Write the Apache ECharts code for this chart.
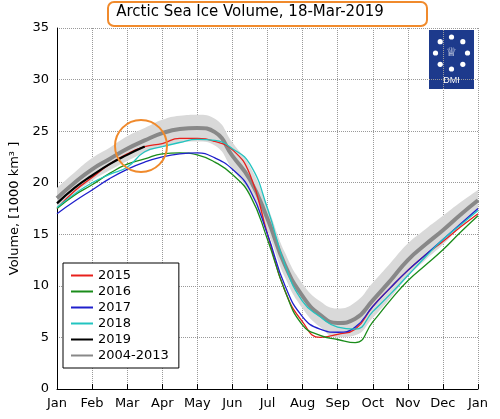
<!DOCTYPE html>
<html><head><meta charset="utf-8">
<script src="https://cdn.jsdelivr.net/npm/echarts@6/dist/echarts.min.js"></script>
<style>html,body{margin:0;background:#fff}#c{width:500px;height:419px}</style>
</head><body><div id="c"></div>
<script>
// half-month steps, index 0 = 1 Jan, index 24 = next 1 Jan
const months = ['Jan','Feb','Mar','Apr','May','Jun','Jul','Aug','Sep','Oct','Nov','Dec','Jan'];
const steps = ['0','0.5','1','1.5','2','2.5','3','3.5','4','4.5','5','5.5','6','6.5','7','7.5','8','8.5','9','9.5','10','10.5','11','11.5','12'];
const mean = [18.5,20,21.3,22.3,23.3,24.1,24.8,25.2,25.3,24.9,22.6,20.3,16.5,12.0,9.0,7.2,6.4,6.8,8.6,10.5,12.5,14.0,15.4,16.9,18.3];
const bandLow = [17.5,19,20.2,21.2,22.1,22.9,23.5,23.9,24.0,23.6,21.3,19.0,15.3,10.8,7.8,6.0,5.0,5.2,6.9,8.8,10.9,12.5,14.0,15.7,17.3];
const bandHigh = [19.5,21,22.4,23.4,24.5,25.3,26.1,26.5,26.6,26.2,23.9,21.6,17.7,13.2,10.2,8.5,7.8,8.4,10.3,12.2,14.1,15.5,16.8,18.1,19.3];
const y2015 = [17.5,19.2,20.5,21.8,22.8,23.5,23.8,24.3,24.3,24.0,23.2,20.8,15.0,9.5,6.5,5.0,5.3,5.8,8.0,9.8,11.5,13.0,14.3,15.7,17.0];
const y2016 = [17.5,18.8,19.8,20.9,21.8,22.3,22.8,22.9,22.7,22.0,20.8,18.8,14.5,9.5,6.2,5.2,4.8,4.5,6.5,8.6,10.5,12.0,13.5,15.2,16.8];
const y2017 = [17.0,18.2,19.3,20.4,21.3,22.0,22.5,22.8,22.9,22.4,21.3,19.3,15.0,10.0,7.0,5.8,5.5,6.0,8.0,9.8,11.5,13.0,14.5,16.0,17.5];
const y2018 = [17.6,18.9,20.0,20.8,21.5,23.0,23.5,23.9,24.2,24.1,23.3,21.8,17.5,12.0,8.5,7.0,6.0,5.8,7.5,9.2,11.0,12.8,14.5,15.9,17.3];
const y2019 = [18.0,19.5,20.7,21.8,22.7,23.5];

const chart = echarts.init(document.getElementById('c'));
const yearLine = (name, data, color, w) => ({
  name, type: 'line', data, smooth: true, symbol: 'none',
  lineStyle: { color, width: w || 1.3 }, itemStyle: { color }, z: 5
});
const even = i => i % 2 === 0;

chart.setOption({
  animation: false,
  textStyle: { fontFamily: 'DejaVu Sans' },
  grid: { left: 57, right: 22, top: 28, bottom: 30 },
  xAxis: {
    type: 'category', data: steps, boundaryGap: false,
    axisLine: { lineStyle: { color: '#000' } },
    axisTick: { inside: true, length: 5, interval: even, lineStyle: { color: '#000' } },
    axisLabel: { color: '#000', fontSize: 13, interval: even, formatter: v => months[Number(v)] },
    splitLine: { show: true, interval: even, lineStyle: { color: '#999', type: 'dotted' } }
  },
  yAxis: {
    type: 'value', min: 0, max: 35, interval: 5,
    name: 'Volume, [1000 km³ ]', nameLocation: 'middle', nameGap: 34,
    nameTextStyle: { color: '#000', fontSize: 13 },
    axisLine: { show: true, lineStyle: { color: '#000' } },
    axisTick: { inside: true, length: 5, lineStyle: { color: '#000' } },
    axisLabel: { color: '#000', fontSize: 13 },
    splitLine: { show: true, lineStyle: { color: '#999', type: 'dotted' } }
  },
  legend: {
    data: ['2015','2016','2017','2018','2019','2004-2013'],
    orient: 'vertical', left: 63, top: 263, itemGap: 3,
    itemWidth: 22, itemHeight: 10, padding: [6, 10, 6, 8],
    backgroundColor: '#fff', borderColor: '#000', borderWidth: 1, borderRadius: 0,
    textStyle: { color: '#000', fontSize: 13 }, icon: 'path://M0,4H22V6H0Z'
  },
  series: [
    { name: 'low', type: 'line', data: bandLow, stack: 'band', smooth: true,
      symbol: 'none', lineStyle: { opacity: 0 }, z: 1 },
    { name: 'band', type: 'line', data: bandHigh.map((v, i) => +(v - bandLow[i]).toFixed(2)),
      stack: 'band', smooth: true, symbol: 'none', lineStyle: { opacity: 0 },
      areaStyle: { color: '#d9d9d9', opacity: 1 }, z: 1 },
    yearLine('2004-2013', mean, '#888', 4),
    yearLine('2015', y2015, '#e8201c'),
    yearLine('2016', y2016, '#1a8c1a'),
    yearLine('2017', y2017, '#1f1fcc'),
    yearLine('2018', y2018, '#22c4c0'),
    yearLine('2019', y2019, '#000', 2.2)
  ],
  graphic: [
    { type: 'text', left: 'center', top: 5, style: { text: 'Arctic Sea Ice Volume, 18-Mar-2019',
      fill: '#000', fontSize: 15, fontFamily: 'DejaVu Sans' } },
    { type: 'rect', shape: { x: 108, y: 2, width: 319, height: 24, r: 6 },
      style: { fill: 'none', stroke: '#f08a2c', lineWidth: 2 } },
    { type: 'circle', shape: { cx: 141, cy: 146, r: 26 },
      style: { fill: 'none', stroke: '#f08a2c', lineWidth: 2 }, z: 10 },
    { type: 'group', left: 429, top: 30, children: [
      { type: 'rect', shape: { x: 0, y: 0, width: 45, height: 59 }, style: { fill: '#1d3a8c' } },
      ...[0,1,2,3,4,5,6,7].map(k => ({ type: 'circle',
        shape: { cx: 22.5 + 16 * Math.sin(k * Math.PI / 4), cy: 23 - 16 * Math.cos(k * Math.PI / 4), r: 2.6 },
        style: { fill: '#fff' } })),
      { type: 'text', style: { text: '♕', x: 22.5, y: 23, align: 'center', verticalAlign: 'middle',
        fill: '#fff', fontSize: 12 } },
      { type: 'text', style: { text: 'DMI', x: 22.5, y: 51, align: 'center', verticalAlign: 'middle',
        fill: '#fff', fontSize: 9 } }
    ] }
  ]
});
</script></body></html>
